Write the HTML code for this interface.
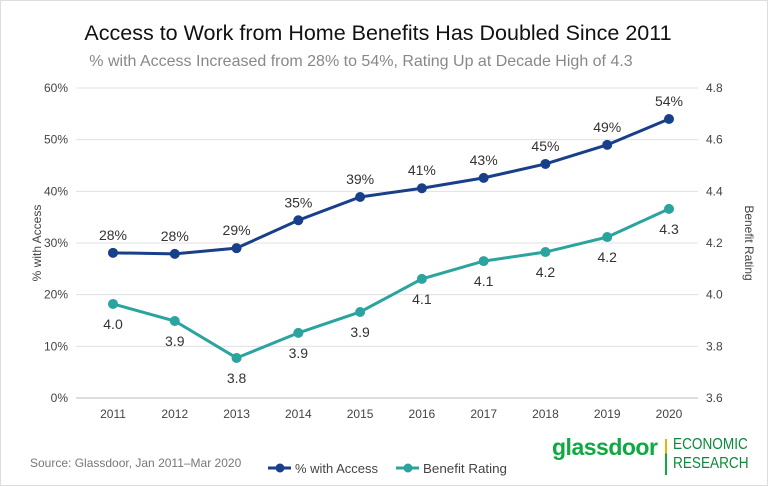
<!DOCTYPE html>
<html><head><meta charset="utf-8"><style>
body{margin:0;background:#fff;}
#wrap{position:relative;width:766px;height:484px;border:1px solid #ddd;font-family:"Liberation Sans",sans-serif;overflow:hidden;}
.title{position:absolute;left:0;width:766px;text-align:center;}
</style></head><body>
<div id="wrap">
<div class="title" style="top:20px;font-size:21.5px;color:#111;left:-6px;">Access to Work from Home Benefits Has Doubled Since 2011</div>
<div class="title" style="top:52px;font-size:16px;color:#888;left:-23px;">% with Access Increased from 28% to 54%, Rating Up at Decade High of 4.3</div>
<svg id="chart" width="766" height="484" style="position:absolute;left:0;top:0"></svg>
<div style="position:absolute;left:29px;top:455px;font-size:12px;color:#777;">Source: Glassdoor, Jan 2011–Mar 2020</div>
<div style="position:absolute;left:551px;top:433px;font-size:23px;font-weight:bold;color:#0caa41;letter-spacing:-0.5px;">glassdoor</div>
<div style="position:absolute;left:664px;top:438px;width:2px;height:36px;background:linear-gradient(#f0b400 40%,#0caa41 40%);"></div>
<div style="position:absolute;left:672px;top:434px;font-size:16px;line-height:19px;color:#0a8a3a;transform:scaleX(0.85);transform-origin:left;">ECONOMIC<br>RESEARCH</div>
</div>
<script>
const years=['2011','2012','2013','2014','2015','2016','2017','2018','2019','2020'];
const access=[28.1,27.9,29.0,34.4,38.9,40.6,42.6,45.3,49.0,54.0];
const accessLabels=['28%','28%','29%','35%','39%','41%','43%','45%','49%','54%'];
const rating=[3.964,3.898,3.755,3.852,3.933,4.061,4.130,4.165,4.223,4.332];
const ratingLabels=['4.0','3.9','3.8','3.9','3.9','4.1','4.1','4.2','4.2','4.3'];
const leftTicks=[0,10,20,30,40,50,60];
const rightTicks=[3.6,3.8,4.0,4.2,4.4,4.6,4.8];
const svg=document.getElementById('chart');const NS='http://www.w3.org/2000/svg';
const L=75,R=697,T=87,B=397;
const x=i=>112+i*(668-112)/(years.length-1);
const yL=v=>B-(v-0)/(60-0)*(B-T);
const yR=v=>B-(v-3.6)/(4.8-3.6)*(B-T);
function mk(t,a,txt){const e=document.createElementNS(NS,t);for(const k in a)e.setAttribute(k,a[k]);if(txt!==undefined)e.textContent=txt;svg.appendChild(e);return e;}
leftTicks.forEach(v=>{
const g=mk('line',{x1:L,x2:R,y1:yL(v),y2:yL(v),stroke:v===0?'#bbb':'#e0e0e0','stroke-width':1});


const t=mk('text',{x:L-8,y:yL(v)+4,'text-anchor':'end','font-size':12,fill:'#444','font-family':'Liberation Sans'},v+'%');


});
rightTicks.forEach(v=>{
const t=mk('text',{x:R+8,y:yR(v)+4,'font-size':12,fill:'#444','font-family':'Liberation Sans'},v.toFixed(1));


});
years.forEach((yv,i)=>{
const t=mk('text',{x:x(i),y:B+20,'text-anchor':'middle','font-size':12,fill:'#444','font-family':'Liberation Sans'},yv);


});
let a=mk('text',{x:0,y:0,transform:`translate(40,${(T+B)/2}) rotate(-90)`,'text-anchor':'middle','font-size':12,fill:'#444','font-family':'Liberation Sans'},'% with Access');


a=mk('text',{x:0,y:0,transform:`translate(744,${(T+B)/2}) rotate(90)`,'text-anchor':'middle','font-size':12,fill:'#444','font-family':'Liberation Sans'},'Benefit Rating');


function series(vals,yf,color,labels,dy,name){
const p=mk('polyline',{points:vals.map((v,i)=>x(i)+','+yf(v)).join(' '),fill:'none',stroke:color,'stroke-width':3});


vals.forEach((v,i)=>{
const c=mk('circle',{cx:x(i),cy:yf(v),r:5,fill:color});


const t=mk('text',{x:x(i),y:yf(v)+dy,'text-anchor':'middle','font-size':14,fill:'#333','font-family':'Liberation Sans'},labels[i]);


});
}
series(access,yL,'#173f8a',accessLabels,-13,'access');
series(rating,yR,'#2ba39e',ratingLabels,25,'rating');
function legend(x0,color,label,name,w){
const l=mk('line',{x1:x0,x2:x0+23,y1:467,y2:467,stroke:color,'stroke-width':3});


const c=mk('circle',{cx:x0+12,cy:467,r:4.5,fill:color});


const t=mk('text',{x:x0+27,y:472,'font-size':13,fill:'#444','font-family':'Liberation Sans',textLength:w,lengthAdjust:'spacingAndGlyphs'},label);


}
legend(267,'#173f8a','% with Access','access',83);
legend(395,'#2ba39e','Benefit Rating','rating',84);
</script>
</body></html>
